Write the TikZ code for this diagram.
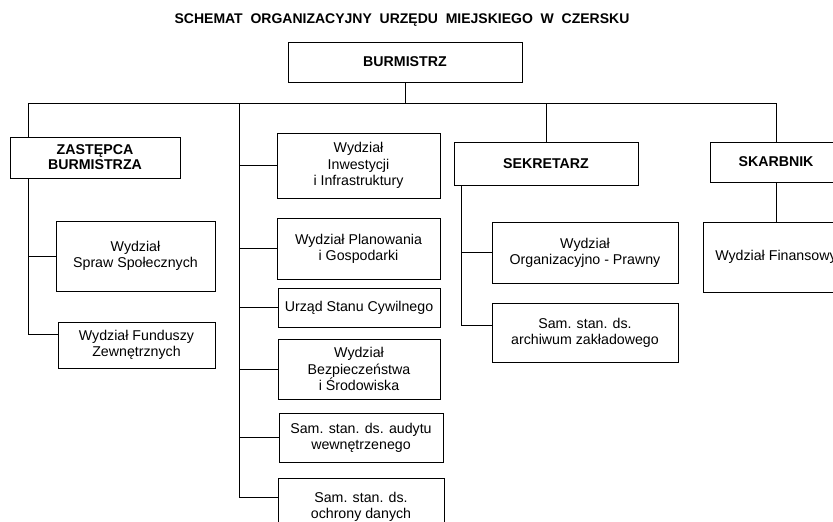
\documentclass[tikz,border=0pt]{standalone}
\usepackage{fontspec}
\setmainfont{Liberation Sans}
\usepackage{tikz}
\usetikzlibrary{positioning, arrows}
\tikzset{
->, % makes the edges directed
every node/.style={font=\fontsize{14.2}{16.3}\selectfont}, % text size of the chart
}

\begin{document}
\begin{tikzpicture}[x=1pt, y=-1pt, thick, box/.style = {draw, rectangle, align=center, inner sep=0pt}, head/.style = {box, font=\fontsize{14.2}{15}\selectfont\bfseries}]
    \clip (0,0) rectangle (833,522);
    \node (0) at (402,20) {\fontsize{14}{15}\selectfont\bfseries SCHEMAT\ \ ORGANIZACYJNY\ \ URZĘDU\ \ MIEJSKIEGO\ \ W\ \ CZERSKU};
    \node[head, minimum width=234, minimum height=40] (1) at (405,62) {BURMISTRZ};
    \node[head, minimum width=170, minimum height=41] (2) at (95,157.5) {ZASTĘPCA\\BURMISTRZA};
    \node[box, minimum width=159, minimum height=70] (3) at (135.5,256) {Wydział\\Spraw Społecznych};
    \node[box, minimum width=157, minimum height=46] (4) at (136.5,345) {Wydział Funduszy\\Zewnętrznych};
    \node[box, minimum width=163, minimum height=65] (5) at (358.5,165.5) {Wydział\\Inwestycji\\i Infrastruktury};
    \node[box, minimum width=163, minimum height=61] (6) at (358.5,248.5) {Wydział Planowania\\i Gospodarki};
    \node[box, minimum width=162, minimum height=39] (7) at (359,307.5) {Urząd Stanu Cywilnego};
    \node[box, minimum width=162, minimum height=60] (8) at (359,369) {Wydział\\Bezpieczeństwa\\i Środowiska};
    \node[box, minimum width=164, minimum height=49] (9) at (361,437.5) {Sam. stan. ds. audytu\\wewnętrzenego};
    \node[box, minimum width=166, minimum height=58] (10) at (361,507) {Sam. stan. ds.\\ochrony danych};
    \node[head, minimum width=184, minimum height=43] (11) at (546,163.5) {SEKRETARZ};
    \node[box, minimum width=186, minimum height=61] (12) at (585,252.5) {Wydział\\Organizacyjno - Prawny};
    \node[box, minimum width=186, minimum height=59] (13) at (585,332.5) {Sam. stan. ds.\\archiwum zakładowego};
    \node[head, minimum width=132, minimum height=40] (14) at (776,162) {SKARBNIK};
    \node[box, minimum width=146, minimum height=70] (15) at (776,257) {Wydział Finansowy};

    \coordinate (zl) at (28,103);
    \coordinate (cl) at (239,103);
    \coordinate (sl) at (461,185);

    \draw [-] (zl) -- (14.north |- zl);
    \draw [-] (1.south) -- (1.south |- zl);
    \draw [-] (zl) -- (zl |- 2.north);
    \draw [-] (zl |- 2.south) |- ([yshift=11pt]4.west);
    \draw [-] (3.west -| zl) -- (3.west);
    \draw [-] (cl) |- ([yshift=10pt]10.west);
    \draw [-] (5.west -| cl) -- (5.west);
    \draw [-] (6.west -| cl) -- (6.west);
    \draw [-] (7.west -| cl) -- (7.west);
    \draw [-] (8.west -| cl) -- (8.west);
    \draw [-] (9.west -| cl) -- (9.west);
    \draw [-] (11.north |- zl) -- (11.north);
    \draw [-] (sl) |- ([yshift=7pt]13.west);
    \draw [-] (12.west -| sl) -- (12.west);
    \draw [-] (14.north |- zl) -- (14.north);
    \draw [-] (14.south) -- (15.north);
\end{tikzpicture}
\end{document}
